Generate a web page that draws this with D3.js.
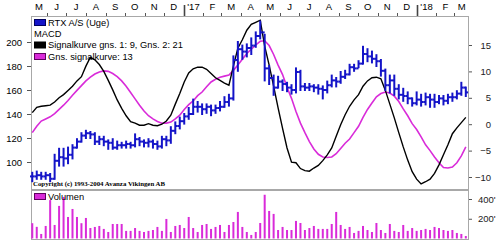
<!DOCTYPE html>
<html>
<head>
<meta charset="utf-8">
<script src="https://cdn.jsdelivr.net/npm/d3@7"></script>
<style>
  body { margin: 0; background: #fff; }
  svg { display: block; font-family: Arial, "Liberation Sans", sans-serif; }
</style>
</head>
<body>
<div id="chart"></div>
<script>
// weekly data, RTX A/S, one entry per week starting with this Monday
const firstWeek = '2016-05-09';

const priceHigh = [
  91, 92, 91, 91, 90, 106, 111, 111, 112, 114,
  119, 124, 126, 125, 124, 121, 121, 118, 119, 117,
  116, 117, 116, 123, 120, 118, 119, 118, 117, 121,
  121, 129, 133, 137, 140, 145, 152, 150, 148, 148,
  147, 147, 150, 154, 156, 188, 200, 197, 198, 203,
  208, 217, 206, 180, 172, 171, 168, 166, 164, 178,
  176, 165, 165, 164, 164, 163, 167, 172, 170, 175,
  176, 181, 181, 184, 196, 194, 192, 189, 185, 177,
  172, 172, 164, 161, 158, 153, 158, 156, 157, 156,
  156, 155, 155, 156, 157, 159, 166, 162
];
const priceLow = [
  84, 86, 86, 86, 84, 86, 97, 97, 99, 103,
  112, 117, 120, 120, 115, 115, 114, 111, 111, 111,
  112, 112, 112, 113, 114, 113, 113, 112, 111, 112,
  114, 116, 124, 128, 132, 136, 140, 142, 140, 141,
  139, 141, 143, 146, 147, 152, 176, 186, 188, 190,
  196, 203, 168, 165, 156, 162, 160, 159, 157, 158,
  160, 160, 160, 159, 157, 153, 158, 163, 163, 166,
  170, 173, 176, 179, 182, 184, 183, 180, 172, 160,
  158, 156, 153, 151, 149, 147, 148, 147, 148, 146,
  146, 149, 148, 149, 151, 153, 156, 155
];
const priceClose = [
  88, 89, 88, 89, 86, 101, 104, 103, 106, 112,
  117, 122, 124, 123, 117, 119, 117, 116, 112, 114,
  114, 115, 114, 119, 117, 116, 117, 115, 113, 119,
  118, 126, 130, 134, 138, 140, 146, 146, 144, 146,
  143, 145, 146, 150, 153, 185, 194, 192, 195, 197,
  205, 208, 178, 170, 162, 167, 165, 162, 160, 175,
  163, 162, 163, 162, 161, 160, 164, 168, 167, 171,
  173, 179, 178, 182, 190, 188, 186, 184, 176, 164,
  168, 161, 156, 155, 153, 149, 152, 150, 154, 152,
  150, 153, 151, 154, 154, 157, 162, 158
];

// MACD (black) and its 13 week signal (magenta), right axis
const macdLine = [
  2.2, 3.2, 3.4, 3.5, 3.6, 4.2, 5.0, 5.6, 6.4, 7.2,
  8.2, 9.0, 11.0, 12.7, 12.2, 11.3, 10.0, 8.3, 6.5, 4.6,
  3.0, 1.6, 0.5, 0.2, -0.2, -0.2, 0.1, -0.2, -0.3, 0.0,
  0.6, 1.7, 3.8, 5.8, 8.0, 9.7, 10.5, 10.8, 10.8, 10.4,
  9.6, 8.8, 8.3, 7.8, 7.4, 11.0, 14.4, 16.0, 17.8, 18.9,
  19.3, 19.7, 14.8, 11.2, 7.2, 3.1, -0.8, -4.5, -7.2, -7.3,
  -8.4, -8.8, -8.9, -8.3, -7.8, -6.9, -5.8, -4.5, -2.3, -0.1,
  1.8, 3.4, 4.6, 5.6, 7.2, 8.2, 8.8, 8.9, 8.6, 6.4,
  3.8, 1.2, -1.6, -4.3, -6.8, -9.0, -10.4, -11.3, -10.9, -10.4,
  -9.3, -7.7, -5.8, -3.9, -1.8, -0.7, 0.3, 1.3
];
const signalLine = [
  -1.6, -0.4, 0.6, 1.0, 1.4, 2.0, 2.8, 3.6, 4.5, 5.5,
  6.4, 7.3, 8.2, 8.9, 9.5, 9.9, 10.1, 10.0, 9.6, 9.0,
  8.2, 7.2, 6.0, 4.8, 3.6, 2.5, 1.6, 1.0, 0.5, 0.2,
  0.2, 0.4, 1.0, 1.7, 2.8, 3.7, 4.4, 5.4, 6.1, 7.1,
  8.0, 8.5, 8.9, 9.1, 9.3, 10.2, 11.2, 12.3, 13.4, 14.2,
  15.0, 15.7, 15.8, 14.9, 13.2, 11.2, 9.4, 7.0, 4.9, 2.4,
  0.2, -1.6, -3.3, -4.7, -5.7, -6.2, -6.3, -6.2, -5.6, -4.6,
  -3.6, -2.8, -1.6, -0.4, 1.3, 2.8, 4.0, 5.2, 5.8, 6.1,
  5.9, 5.3, 4.3, 2.9, 1.6, 0.1, -1.0, -2.4, -3.9, -5.0,
  -6.2, -7.3, -8.2, -8.3, -8.1, -7.3, -6.0, -4.3
];

// weekly volume, thousands
const volume = [
  155, 118, 46, 127, 389, 137, 330, 421, 218, 299,
  218, 155, 208, 106, 117, 127, 97, 66, 147, 147,
  147, 77, 77, 106, 77, 66, 77, 86, 117, 77,
  198, 66, 127, 137, 106, 218, 106, 66, 137, 147,
  97, 117, 137, 66, 137, 167, 269, 117, 66, 36,
  66, 157, 443, 279, 249, 86, 117, 86, 86, 178,
  157, 86, 106, 127, 97, 97, 97, 147, 269, 137,
  97, 117, 56, 77, 127, 86, 66, 157, 86, 56,
  147, 77, 66, 137, 77, 106, 77, 86, 97, 86,
  117, 106, 86, 77, 86, 56, 46, 25
];

const priceTicks = [100, 120, 140, 160, 180, 200];
const macdTicks = [-10, -5, 0, 5, 10, 15];
const volumeTicks = [200, 400];
const monthLetters = ['J', 'F', 'M', 'A', 'M', 'J', 'J', 'A', 'S', 'O', 'N', 'D'];
const priceLegend = 'RTX A/S (Uge)';
const macdLegend = ['Signalkurve gns. 1: 9, Gns. 2: 21', 'Gns. signalkurve: 13'];
const copyright = 'Copyright (c) 1993-2004 Avanza Vikingen AB';

const width = 500, height = 242;
const frame = { left: 31, right: 469, top: 16, split: 190, bottom: 239 };
const blue = '#1414c8', magenta = '#d92bd9', axisGrey = '#a8a8a8';

const weeks = priceClose.map((d, i) => d3.timeMonday.offset(d3.timeParse('%Y-%m-%d')(firstWeek), i));

const svg = d3.select('#chart').append('svg')
  .attr('width', width)
  .attr('height', height);

const x = d3.scaleTime()
  .domain([new Date(2016, 4, 7), new Date(2018, 2, 24)])
  .range([frame.left, frame.right]);

const priceY = d3.scaleLinear().domain([100, 200]).range([162, 42]);
const macdY = d3.scaleLinear().domain([-10, 15]).range([177, 45]);
const volY = d3.scaleLinear().domain([0, 400]).range([238.5, 199]);

// frame lines
const frameG = svg.append('g').attr('stroke', axisGrey).attr('stroke-width', 1).attr('shape-rendering', 'crispEdges');
frameG.append('line').attr('x1', frame.left).attr('x2', frame.right).attr('y1', frame.top + 0.5).attr('y2', frame.top + 0.5);
frameG.append('line').attr('x1', frame.left).attr('x2', frame.right).attr('y1', frame.split).attr('y2', frame.split).attr('stroke-width', 2);
frameG.append('line').attr('x1', frame.left).attr('x2', frame.right).attr('y1', frame.bottom + 0.5).attr('y2', frame.bottom + 0.5);
frameG.append('line').attr('x1', frame.left + 0.5).attr('x2', frame.left + 0.5).attr('y1', frame.top).attr('y2', frame.bottom);
frameG.append('line').attr('x1', frame.right - 0.5).attr('x2', frame.right - 0.5).attr('y1', frame.top).attr('y2', frame.bottom);

// top month axis
const [d0, d1] = x.domain();
const months = d3.timeMonth.range(d3.timeMonth.floor(d0), d1);
const topAxis = svg.append('g').attr('font-size', 9.5).attr('fill', '#000');
months.forEach(m => {
  const start = m < d0 ? d0 : m;
  const next = d3.timeMonth.offset(m, 1);
  const end = next > d1 ? d1 : next;
  const isYear = m.getMonth() === 0;
  if (m >= d0) {
    topAxis.append('line')
      .attr('x1', Math.round(x(m)) + 0.5).attr('x2', Math.round(x(m)) + 0.5)
      .attr('y1', isYear ? 5 : 13).attr('y2', frame.top)
      .attr('stroke', isYear ? '#444' : '#555')
      .attr('stroke-width', isYear ? 1.6 : 1);
  }
  topAxis.append('text')
    .attr('x', (x(start) + x(end)) / 2)
    .attr('y', 10)
    .attr('text-anchor', 'middle')
    .text(isYear ? "'" + d3.timeFormat('%y')(m) : monthLetters[m.getMonth()]);
});

// left price axis
const leftAxis = svg.append('g')
  .attr('transform', `translate(${frame.left},0)`)
  .call(d3.axisLeft(priceY).tickValues(priceTicks).tickSize(4).tickPadding(5));
leftAxis.select('.domain').remove();
leftAxis.selectAll('text').attr('font-size', 9.5).attr('font-family', 'Arial, "Liberation Sans", sans-serif').attr('fill', '#000');
leftAxis.selectAll('line').attr('stroke', '#555');

// right MACD axis
const rightAxis = svg.append('g')
  .attr('transform', `translate(${frame.right},0)`)
  .call(d3.axisRight(macdY).tickValues(macdTicks).tickSize(3));
rightAxis.select('.domain').remove();
rightAxis.selectAll('text')
  .attr('x', 22).attr('text-anchor', 'end')
  .attr('font-size', 9.5).attr('font-family', 'Arial, "Liberation Sans", sans-serif').attr('fill', '#222');
rightAxis.selectAll('line').attr('stroke', '#555');

// right volume axis
const volAxis = svg.append('g')
  .attr('transform', `translate(${frame.right},0)`)
  .call(d3.axisRight(volY).tickValues(volumeTicks).tickSize(3).tickFormat(d => d + "'"));
volAxis.select('.domain').remove();
volAxis.selectAll('text')
  .attr('x', 9).attr('text-anchor', 'start')
  .attr('font-size', 9.5).attr('font-family', 'Arial, "Liberation Sans", sans-serif').attr('fill', '#222');
volAxis.selectAll('line').attr('stroke', '#555');

// MACD + signal lines
const macdPath = d3.line().x((d, i) => x(weeks[i])).y(d => macdY(d));
svg.append('path')
  .datum(signalLine)
  .attr('fill', 'none')
  .attr('stroke', magenta)
  .attr('stroke-width', 1.6)
  .attr('d', macdPath);
svg.append('path')
  .datum(macdLine)
  .attr('fill', 'none')
  .attr('stroke', '#000')
  .attr('stroke-width', 1.4)
  .attr('d', macdPath);

// weekly price bars (high-low with open/close ticks)
const bars = svg.append('g').attr('stroke', blue).attr('stroke-width', 2);
priceClose.forEach((c, i) => {
  const cx = x(weeks[i]);
  const open = i > 0 ? priceClose[i - 1] : c;
  bars.append('line').attr('x1', cx).attr('x2', cx).attr('y1', priceY(priceHigh[i]) - 1).attr('y2', priceY(priceLow[i]) + 1);
  bars.append('line').attr('x1', cx - 2.3).attr('x2', cx).attr('y1', priceY(open)).attr('y2', priceY(open));
  bars.append('line').attr('x1', cx).attr('x2', cx + 2.3).attr('y1', priceY(c)).attr('y2', priceY(c));
});

// volume bars
svg.append('g').selectAll('rect')
  .data(volume)
  .join('rect')
  .attr('x', (d, i) => x(weeks[i]) - 1)
  .attr('width', 2)
  .attr('y', d => volY(d))
  .attr('height', d => volY(0) - volY(d))
  .attr('fill', magenta);

// legends
const legend = svg.append('g').attr('font-size', 9.3).attr('fill', '#000');
const swatch = (y, fill, stroke) => legend.append('rect')
  .attr('x', 34.5).attr('y', y - 2.5).attr('width', 11).attr('height', 6)
  .attr('fill', fill).attr('stroke', stroke).attr('stroke-width', 1);
swatch(22, blue, '#000060');
legend.append('text').attr('x', 48).attr('y', 26).text(priceLegend);
legend.append('text').attr('x', 34).attr('y', 37).text('MACD');
swatch(44.5, '#000', '#000');
legend.append('text').attr('x', 48).attr('y', 48).text(macdLegend[0]);
swatch(56, magenta, '#600060');
legend.append('text').attr('x', 48).attr('y', 59.5).text(macdLegend[1]);
swatch(196, magenta, '#600060');
legend.append('text').attr('x', 48).attr('y', 199.5).text('Volumen');

svg.append('text')
  .attr('x', 33).attr('y', 186)
  .attr('font-family', '"Liberation Serif", "DejaVu Serif", serif')
  .attr('font-size', 7)
  .attr('font-weight', 'bold')
  .attr('textLength', 132)
  .attr('lengthAdjust', 'spacingAndGlyphs')
  .text(copyright);
</script>
</body>
</html>
